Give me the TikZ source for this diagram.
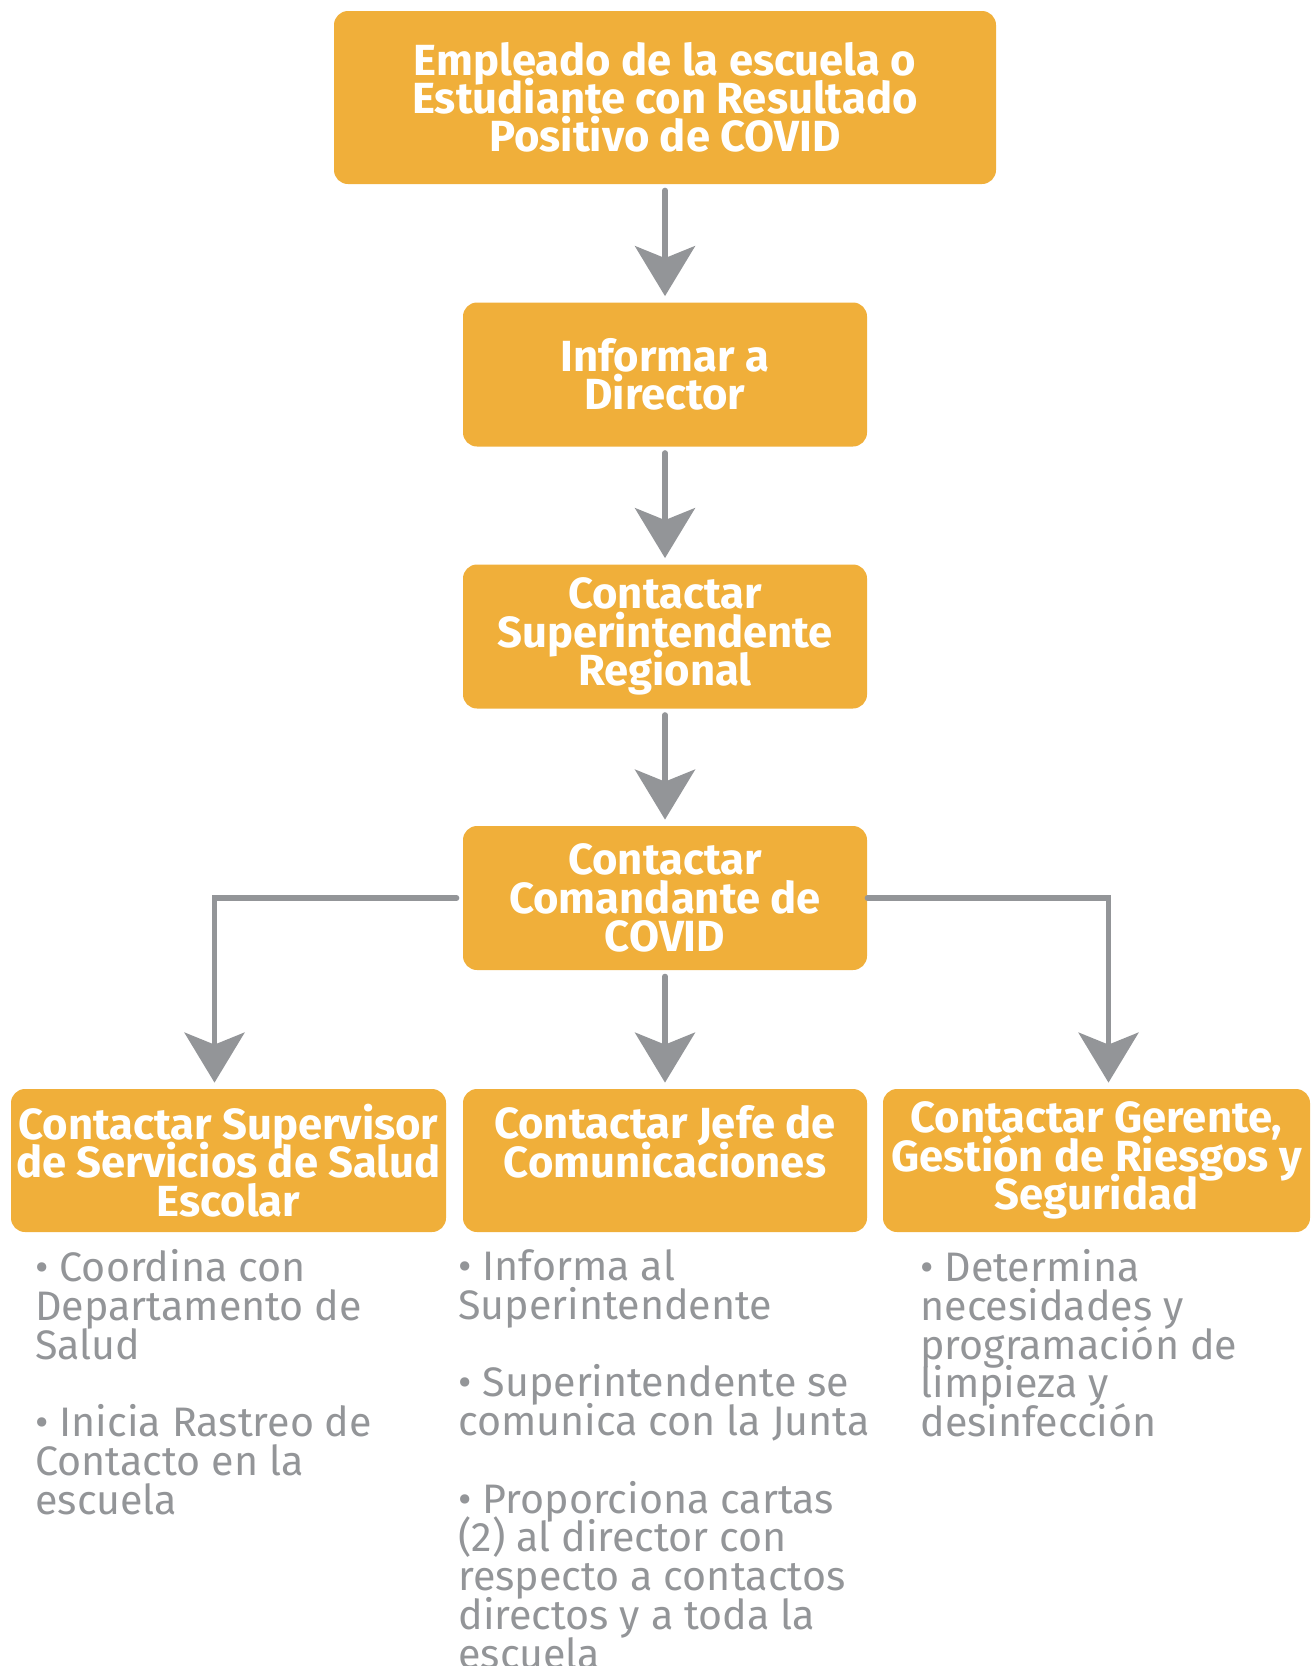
\documentclass[tikz,border=0pt]{standalone}
\usepackage{fontspec}
\setmainfont{Fira Sans}
\usetikzlibrary{arrows.meta}

\definecolor{boxorange}{HTML}{F0AF3A}
\definecolor{flowgrey}{HTML}{939598}

\newcommand{\tightlines}{\lineskiplimit-100pt\lineskip0pt\relax}

\tikzstyle{stepbox}=[rectangle, fill=boxorange, rounded corners=7pt, inner sep=0pt, align=center, text=white, font=\fontsize{21.8pt}{19.1pt}\selectfont\bfseries\tightlines]
\tikzstyle{flow}=[<-, draw=flowgrey, line width=2.7pt, line cap=round, shorten <=3pt, shorten >=3pt, >={Stealth[length=25pt, width=30pt, inset=6pt]}]
\tikzstyle{notes}=[inner sep=0pt, anchor=north west, align=left, text=flowgrey, font=\fontsize{20.6pt}{19.4pt}\selectfont\tightlines]

\begin{document}
\begin{tikzpicture}[x=0.5pt, y=-0.5pt]
    \useasboundingbox (0,0) rectangle (1312,1666);

    \node[stepbox, minimum width=331pt, minimum height=86.5pt] (positivo) at (665,97.5) {Empleado de la escuela o\\Estudiante con Resultado\\Positivo de COVID};

    \node[stepbox, minimum width=202pt, minimum height=72pt] (director) at (665,374.5) {Informar a\\Director}
    edge[flow] (positivo);

    \node[stepbox, minimum width=202pt, minimum height=72pt] (regional) at (665,636.5) {Contactar\\Superintendente\\Regional}
    edge[flow] (director);

    \node[stepbox, minimum width=202pt, minimum height=72pt] (comandante) at (665,898) {Contactar\\Comandante de\\COVID}
    edge[flow] (regional);

    \node[stepbox, minimum width=217.5pt, minimum height=71.5pt] (salud) at (228.5,1160.5) {Contactar Supervisor\\de Servicios de Salud\\Escolar}
    edge[flow, to path={([xshift=-7pt]\tikztostart.north) |- (\tikztotarget)}] (comandante.west);

    \node[stepbox, minimum width=202pt, minimum height=71.5pt] (comunicaciones) at (665,1160.5) {Contactar Jefe de\\Comunicaciones\\\mbox{}}
    edge[flow] (comandante);

    \node[stepbox, minimum width=213.5pt, minimum height=71.5pt] (riesgos) at (1096.5,1160.5) {Contactar Gerente,\\Gestión de Riesgos y\\Seguridad}
    edge[flow, shorten >=0pt, to path={([xshift=6pt]\tikztostart.north) |- (\tikztotarget)}] (comandante.east);

    \node[notes] (saludnotes) at (35,1249) {• Coordina con\\Departamento de\\Salud\\[19.4pt]• Inicia Rastreo de\\Contacto en la\\escuela};

    \node[notes] (comunicacionesnotes) at (458,1249) {• Informa al\\Superintendente\\[19.4pt]• Superintendente se\\comunica con la Junta\\[19.4pt]• Proporciona cartas\\(2) al director con\\respecto a contactos\\directos y a toda la\\escuela};

    \node[notes] (riesgosnotes) at (920,1249) {• Determina\\necesidades y\\programación de\\limpieza y\\desinfección};
\end{tikzpicture}
\end{document}
